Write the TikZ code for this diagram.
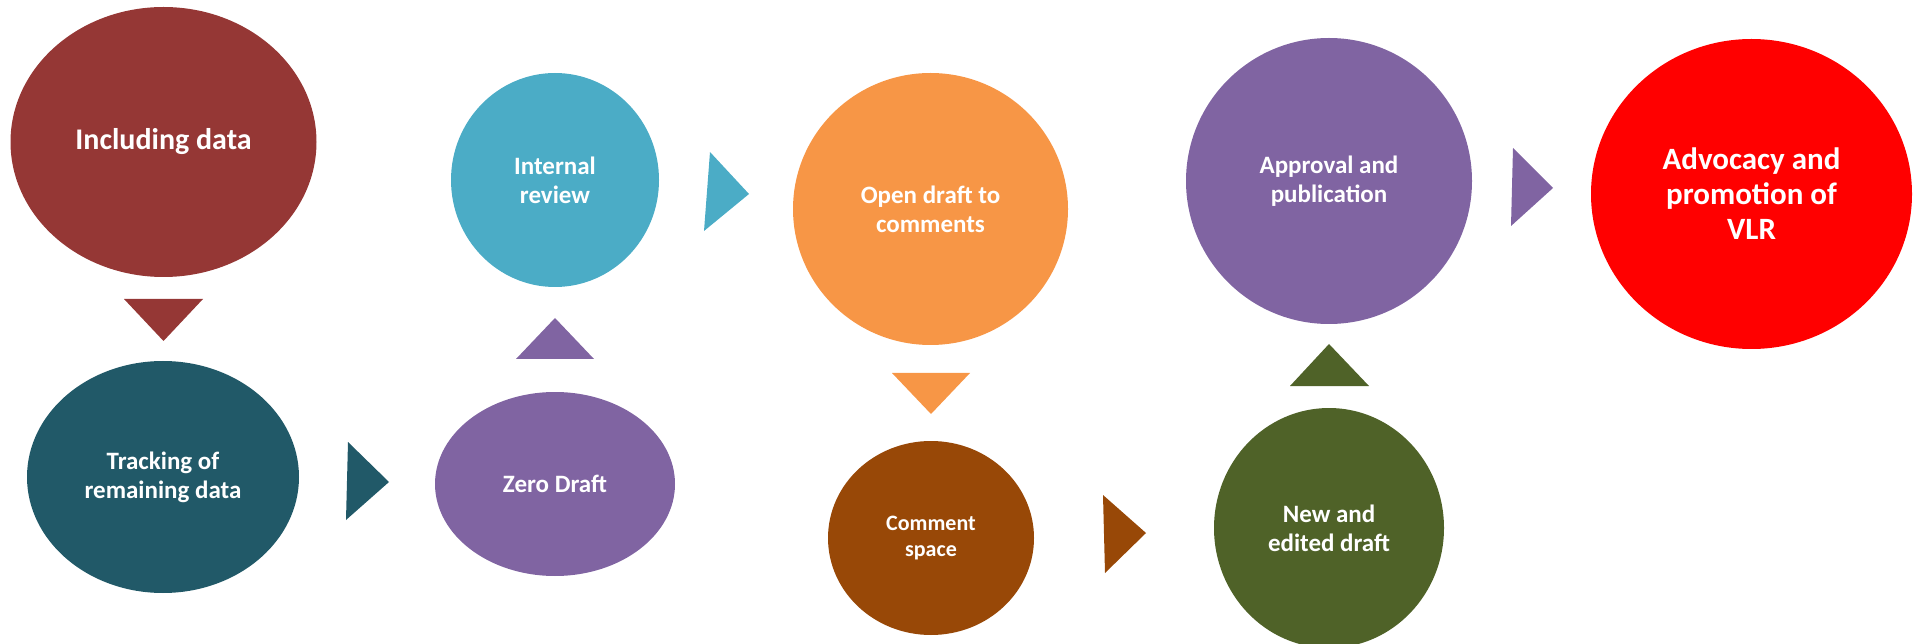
\documentclass[tikz,border=0pt]{standalone}
\usepackage{fontspec}
\setmainfont{Carlito}
\usetikzlibrary{shapes.geometric}
\definecolor{cInc}{HTML}{953735}
\definecolor{cTrk}{HTML}{215968}
\definecolor{cIrv}{HTML}{4BACC6}
\definecolor{cPur}{HTML}{8064A2}
\definecolor{cOrg}{HTML}{F79646}
\definecolor{cBrn}{HTML}{984807}
\definecolor{cGrn}{HTML}{4F6228}
\definecolor{cRed}{HTML}{FF0000}
\tikzset{
  stage/.style={ellipse, inner sep=0pt, draw=none, text=white, align=center,
    font=\bfseries\fontsize{25}{29}\selectfont},
  tri/.style={draw=none}
}
\begin{document}
\begin{tikzpicture}[x=1pt,y=-1pt]
\useasboundingbox (0,0) rectangle (1923,644);
% stages
\node[stage, fill=cInc, minimum width=306pt, minimum height=270pt,
      font=\bfseries\fontsize{30}{35}\selectfont] (inc) at (163.5,142) {Including data};
\node[stage, fill=cTrk, minimum width=272pt, minimum height=232pt] (trk) at (163,477) {Tracking of\\remaining data};
\node[stage, fill=cPur, minimum width=240pt, minimum height=184pt] (zd) at (555,484) {Zero Draft};
\node[stage, fill=cIrv, minimum width=208pt, minimum height=214pt] (irv) at (555,180) {Internal\\review};
\node[stage, fill=cOrg, minimum width=275pt, minimum height=272pt] (odc) at (930.5,209) {Open draft to\\comments};
\node[stage, fill=cBrn, minimum width=206pt, minimum height=194pt,
      font=\bfseries\fontsize{22}{26}\selectfont] (cs) at (931,538) {Comment\\space};
\node[stage, fill=cGrn, minimum width=230pt, minimum height=240pt] (ned) at (1329,528) {New and\\edited draft};
\node[stage, fill=cPur, minimum width=286pt, minimum height=286pt] (app) at (1329,181) {Approval and\\publication};
\node[stage, fill=cRed, minimum width=321pt, minimum height=310pt,
      font=\bfseries\fontsize{31}{35}\selectfont] (adv) at (1751.5,194) {Advocacy and\\promotion of\\VLR};
% arrow triangles
\fill[cInc] (124,299) -- (203,299) -- (163.5,341) -- cycle;
\fill[cTrk] (348,442) -- (346,520) -- (389,482) -- cycle;
\fill[cPur] (516,359) -- (594,359) -- (555,318) -- cycle;
\fill[cIrv] (710,152) -- (704,231) -- (749,194) -- cycle;
\fill[cOrg] (892,373) -- (970,373) -- (931,414) -- cycle;
\fill[cBrn] (1103,495) -- (1105,573) -- (1146,533) -- cycle;
\fill[cGrn] (1290,386) -- (1369,386) -- (1329,344) -- cycle;
\fill[cPur] (1513,148) -- (1511,226) -- (1553,188) -- cycle;
\end{tikzpicture}
\end{document}
